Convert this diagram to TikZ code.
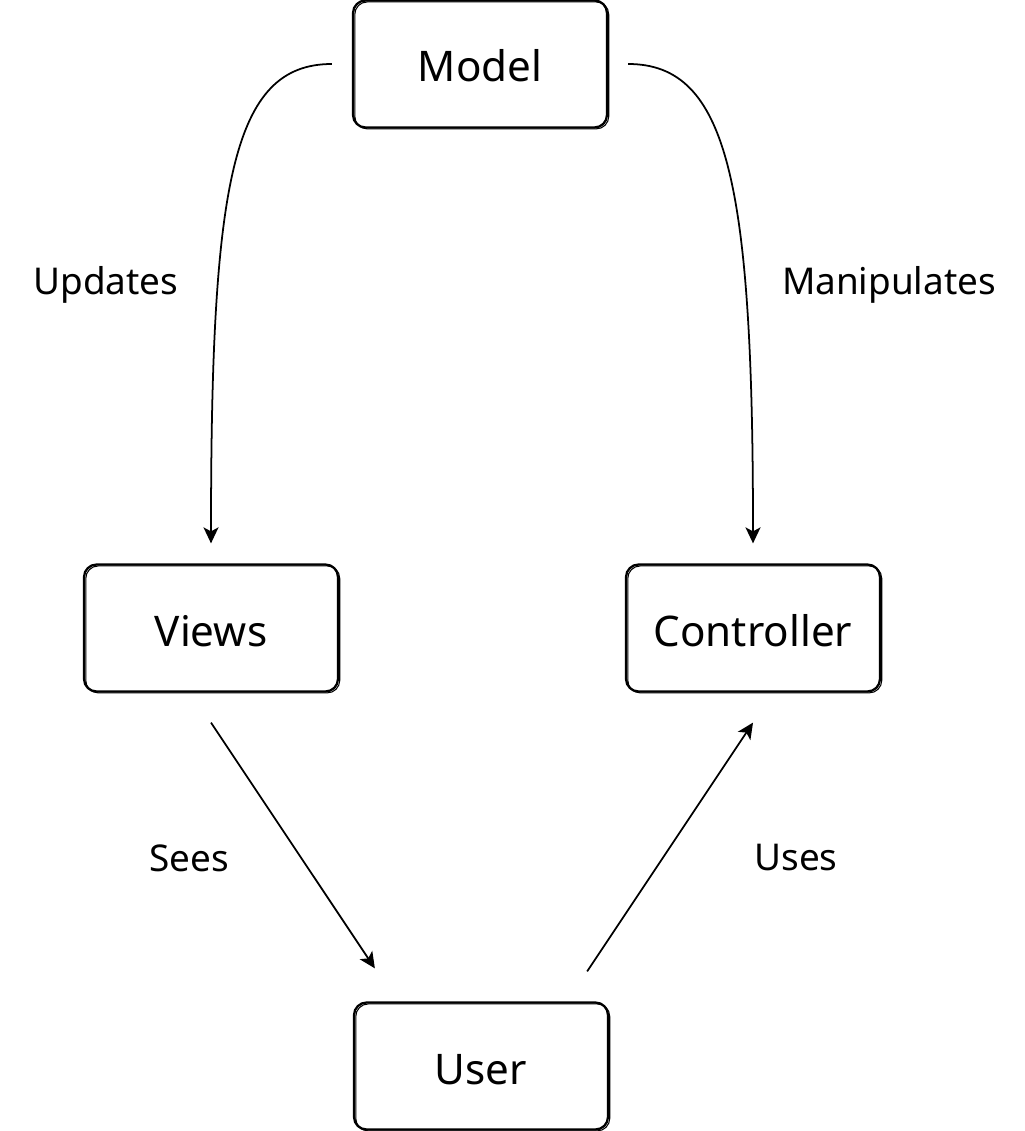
\documentclass[tikz,border=0pt]{standalone}
\usepackage{fontspec}
\setmainfont{Noto Sans}
\usetikzlibrary{arrows.meta}

\begin{document}
\begin{tikzpicture}[x=0.02cm, y=-0.02cm,
  box/.style={draw, line width=1.3pt, rounded corners=0.25cm,
    minimum width=5.08cm, minimum height=2.54cm,
    text height=0.72cm, text depth=0cm,
    font=\fontsize{24}{28}\selectfont,
    postaction={draw, line width=0.6pt, transform canvas={xshift=1pt, yshift=-0.8pt}}},
  lbl/.style={font=\fontsize{21}{25}\selectfont},
  arr/.style={-{Stealth[length=0.32cm, width=0.3cm, inset=0.08cm]}, line width=1pt}]
\useasboundingbox (0, 0) rectangle (1024, 1131);
%\draw[help lines] (0, 0) grid[step=100] (1024, 1131);
\node [box] (model) at (480, 64) {Model};
\node [box] (views) at (211, 628) {Views};
\node [box] (ctrl) at (753, 628) {Controller};
\node [box] (user) at (481, 1066) {User};

\draw [arr, shorten <=0.4cm, shorten >=0.4cm] (model.west) .. controls +(-120, 0) and +(0, -380) .. (views.north);
\draw [arr, shorten <=0.4cm, shorten >=0.4cm] (model.east) .. controls +(120, 0) and +(0, -380) .. (ctrl.north);
\draw [arr] ([yshift=-0.6cm]views.south) -- ([xshift=0.44cm, yshift=0.66cm]user.north west);
\draw [arr] ([xshift=-0.44cm, yshift=0.6cm]user.north east) -- ([yshift=-0.6cm]ctrl.south);

\node [lbl] (upd) at (106, 285) {Updates};
\node [lbl] (man) at (889, 285) {Manipulates};
\node [lbl] (sees) at (189, 858) {Sees};
\node [lbl] (uses) at (796, 858) {Uses};
\end{tikzpicture}
\end{document}
